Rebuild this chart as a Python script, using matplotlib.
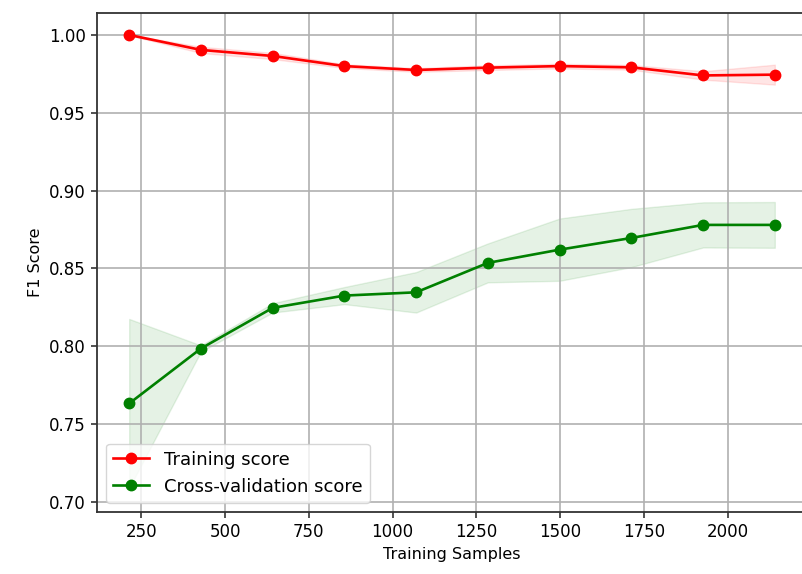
import numpy as np
import matplotlib.pyplot as plt

# learning curve data
train_sizes = [214, 428, 642, 856, 1070, 1284, 1498, 1712, 1926, 2140]
train_mean = [1.000, 0.9904, 0.9865, 0.9800, 0.9775, 0.9790, 0.9800, 0.9792, 0.9740, 0.9745]
train_std = [0.0002, 0.0020, 0.0020, 0.0012, 0.0012, 0.0015, 0.0015, 0.0015, 0.0027, 0.0064]
cv_mean = [0.7633, 0.7986, 0.8247, 0.8326, 0.8347, 0.8536, 0.8621, 0.8696, 0.8780, 0.8780]
cv_std = [0.0543, 0.0020, 0.0030, 0.0055, 0.0130, 0.0125, 0.0200, 0.0187, 0.0145, 0.0147]

plt.rcParams['font.family'] = ['DejaVu Sans']
plt.rcParams['font.size'] = 12

train_mean = np.array(train_mean)
train_std = np.array(train_std)
cv_mean = np.array(cv_mean)
cv_std = np.array(cv_std)

fig = plt.figure(figsize=(8.02, 5.74), dpi=100)
ax = fig.add_axes([97 / 802, 62 / 574, 710 / 802, 499 / 574])

ax.fill_between(train_sizes, train_mean - train_std, train_mean + train_std,
                alpha=0.1, color='r')
ax.fill_between(train_sizes, cv_mean - cv_std, cv_mean + cv_std,
                alpha=0.1, color='g')
ax.plot(train_sizes, train_mean, 'o-', color='r', lw=1.9, ms=7.5, label='Training score')
ax.plot(train_sizes, cv_mean, 'o-', color='g', lw=1.9, ms=7.5, label='Cross-validation score')

ax.set_xlim(118, 2236)
ax.set_ylim(0.6936, 1.0141)
ax.set_xticks([250, 500, 750, 1000, 1250, 1500, 1750, 2000])
ax.set_yticks([0.70, 0.75, 0.80, 0.85, 0.90, 0.95, 1.00])
ax.set_xlabel('Training Samples', fontsize=11.5)
ax.set_ylabel('F1 Score', fontsize=11.5)
ax.grid(True, lw=1.2)
ax.tick_params(width=1.2, length=4.5, color='#333333')
for s in ax.spines.values():
    s.set_linewidth(1.3)
    s.set_color('#333333')
ax.legend(loc='lower left', fontsize=13)

fig.savefig('out.png', dpi=100)
